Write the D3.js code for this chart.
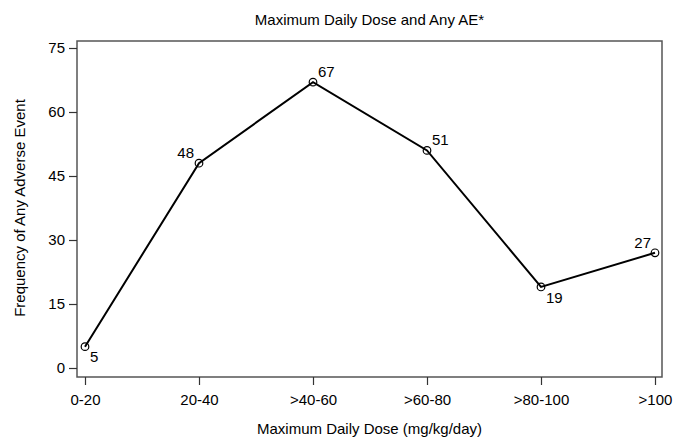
<!DOCTYPE html>
<html>
<head>
<meta charset="utf-8">
<script src="https://cdn.jsdelivr.net/npm/d3@7"></script>
<style>
  body { margin: 0; background: #fff; }
  text { font-family: "Liberation Sans", Arial, sans-serif; fill: #000; }
</style>
</head>
<body>
<div id="chart"></div>
<script>
const categories = ["0-20", "20-40", ">40-60", ">60-80", ">80-100", ">100"];
const aeCounts = [5, 48, 67, 51, 19, 27];
const yTicks = [0, 15, 30, 45, 60, 75];
// label placement per point: [dx, dy, anchor]
const labelPos = [
  [5, 15, "start"], [-5, -5, "end"], [5, -5, "start"],
  [5, -5, "start"], [5, 16, "start"], [-4, -5, "end"]
];

const W = 673, H = 438;
const margin = { top: 41, right: 11, bottom: 61, left: 77 };
const width = W - margin.left - margin.right;
const height = H - margin.top - margin.bottom;

const svg = d3.select("#chart").append("svg")
  .attr("width", W).attr("height", H);

const g = svg.append("g")
  .attr("transform", `translate(${margin.left},${margin.top})`);

const x = d3.scalePoint().domain(categories).range([8, width - 7]);
const y = d3.scaleLinear().domain([0, 75]).range([height - 9, 7]);

// plot frame
g.append("rect")
  .attr("width", width).attr("height", height)
  .attr("fill", "none").attr("stroke", "#555").attr("stroke-width", 1.5);

// axes
const xAxis = g.append("g")
  .attr("transform", `translate(0,${height})`)
  .call(d3.axisBottom(x).tickSize(8).tickPadding(9));
const yAxis = g.append("g")
  .call(d3.axisLeft(y).tickValues(yTicks).tickSize(8).tickPadding(4));
[xAxis, yAxis].forEach(a => {
  a.select(".domain").remove();
  a.selectAll(".tick line").attr("stroke", "#333").attr("stroke-width", 1.2);
  a.selectAll(".tick text").style("font-size", "15px")
    .style("font-family", "'Liberation Sans', Arial, sans-serif");
});

// line
const pts = categories.map((c, i) => ({ c, v: aeCounts[i], i }));
g.append("path")
  .datum(pts)
  .attr("fill", "none").attr("stroke", "#000").attr("stroke-width", 2)
  .attr("d", d3.line().x(d => x(d.c)).y(d => y(d.v)));

g.selectAll(".pt").data(pts).join("circle")
  .attr("class", "pt")
  .attr("cx", d => x(d.c)).attr("cy", d => y(d.v)).attr("r", 3.8)
  .attr("fill", "none").attr("stroke", "#000").attr("stroke-width", 1.2);

g.selectAll(".lbl").data(pts).join("text")
  .attr("class", "lbl")
  .attr("x", d => x(d.c) + labelPos[d.i][0])
  .attr("y", d => y(d.v) + labelPos[d.i][1])
  .attr("text-anchor", d => labelPos[d.i][2])
  .style("font-size", "15px")
  .text(d => d.v);

// titles
svg.append("text")
  .attr("x", margin.left + width / 2).attr("y", 25)
  .attr("text-anchor", "middle").style("font-size", "15px")
  .text("Maximum Daily Dose and Any AE*");

svg.append("text")
  .attr("x", margin.left + width / 2).attr("y", 434)
  .attr("text-anchor", "middle").style("font-size", "15px")
  .text("Maximum Daily Dose (mg/kg/day)");

svg.append("text")
  .attr("transform", `translate(25,${margin.top + y(37.5)}) rotate(-90)`)
  .attr("text-anchor", "middle").style("font-size", "15px")
  .text("Frequency of Any Adverse Event");
</script>
</body>
</html>
